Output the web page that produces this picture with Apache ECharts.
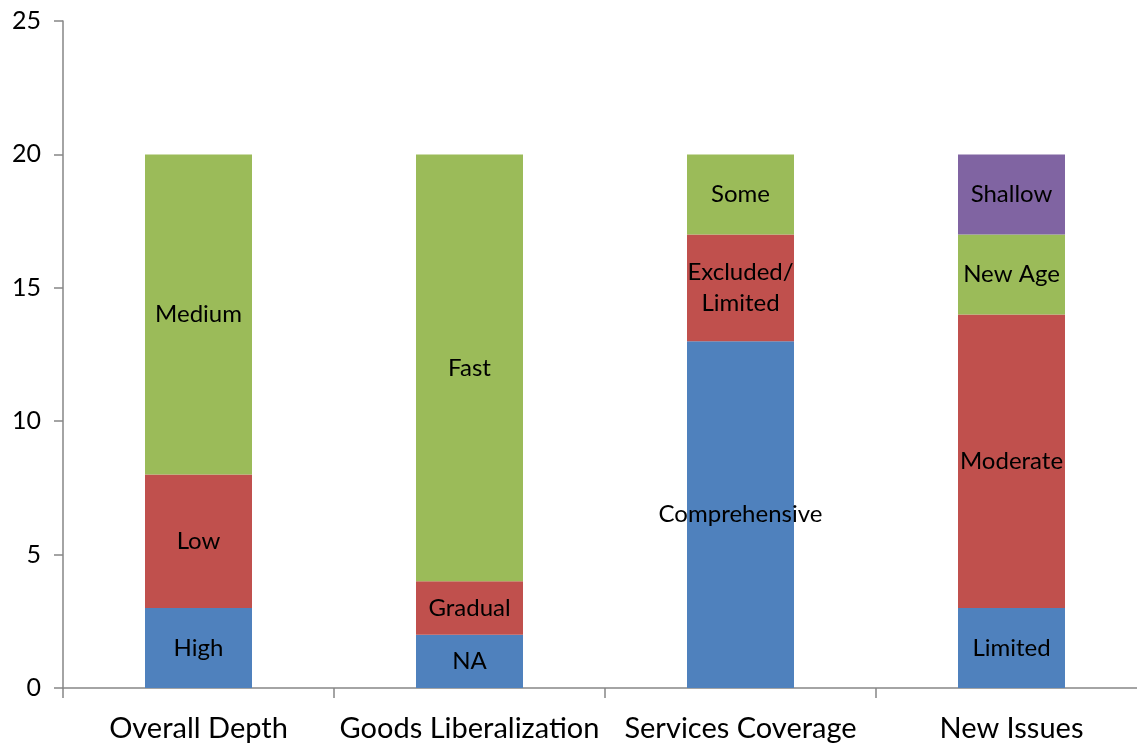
<!DOCTYPE html>
<html>
<head>
<meta charset="utf-8">
<script src="https://cdn.jsdelivr.net/npm/echarts@6/dist/echarts.min.js"></script>
<style>html,body{margin:0;padding:0;background:#fff;}#c{width:1137px;height:744px;}</style>
</head>
<body>
<div id="c"></div>
<script>
const categories = ['Overall Depth', 'Goods Liberalization', 'Services Coverage', 'New Issues'];
const yTicks = [0, 5, 10, 15, 20, 25];

const s1Values = [3, 2, 13, 3];
const s1Labels = ['High', 'NA', 'Comprehensive', 'Limited'];
const s2Values = [5, 2, 4, 11];
const s2Labels = ['Low', 'Gradual', 'Excluded/\nLimited', 'Moderate'];
const s3Values = [12, 16, 3, 3];
const s3Labels = ['Medium', 'Fast', 'Some', 'New Age'];
const s4Values = [0, 0, 0, 3];
const s4Labels = ['', '', '', 'Shallow'];

const colors = ['#4F81BD', '#C0504D', '#9BBB59', '#8064A2'];
const font = 'Lato, "Open Sans", sans-serif';

function mk(name, vals, labels, color) {
  return {
    name: name,
    type: 'bar',
    stack: 'total',
    barWidth: 107,
    data: vals,
    itemStyle: { color: color },
    label: {
      show: true,
      position: 'inside',
      color: '#000',
      fontFamily: font,
      fontSize: 24,
      lineHeight: 31,
      formatter: p => labels[p.dataIndex]
    }
  };
}

const chart = echarts.init(document.getElementById('c'));
chart.setOption({
  animation: false,
  grid: { left: 63, top: 21, width: 1084, bottom: 56, containLabel: false, outerBoundsMode: 'none' },
  xAxis: {
    type: 'category',
    data: categories,
    axisLine: { lineStyle: { color: '#868686', width: 1.5 } },
    axisTick: { show: true, length: 10, lineStyle: { color: '#868686', width: 1.5 } },
    axisLabel: { color: '#000', fontFamily: font, fontSize: 29, margin: 26, interval: 0 }
  },
  yAxis: {
    type: 'value',
    min: yTicks[0],
    max: yTicks[yTicks.length - 1],
    interval: 5,
    splitLine: { show: false },
    axisLine: { show: true, lineStyle: { color: '#868686', width: 1.5 } },
    axisTick: { show: true, length: 9, lineStyle: { color: '#868686', width: 1.5 } },
    axisLabel: { color: '#000', fontFamily: font, fontSize: 25, margin: 22 }
  },
  series: [
    mk('s1', s1Values, s1Labels, colors[0]),
    mk('s2', s2Values, s2Labels, colors[1]),
    mk('s3', s3Values, s3Labels, colors[2]),
    mk('s4', s4Values, s4Labels, colors[3])
  ]
});
</script>
</body>
</html>
